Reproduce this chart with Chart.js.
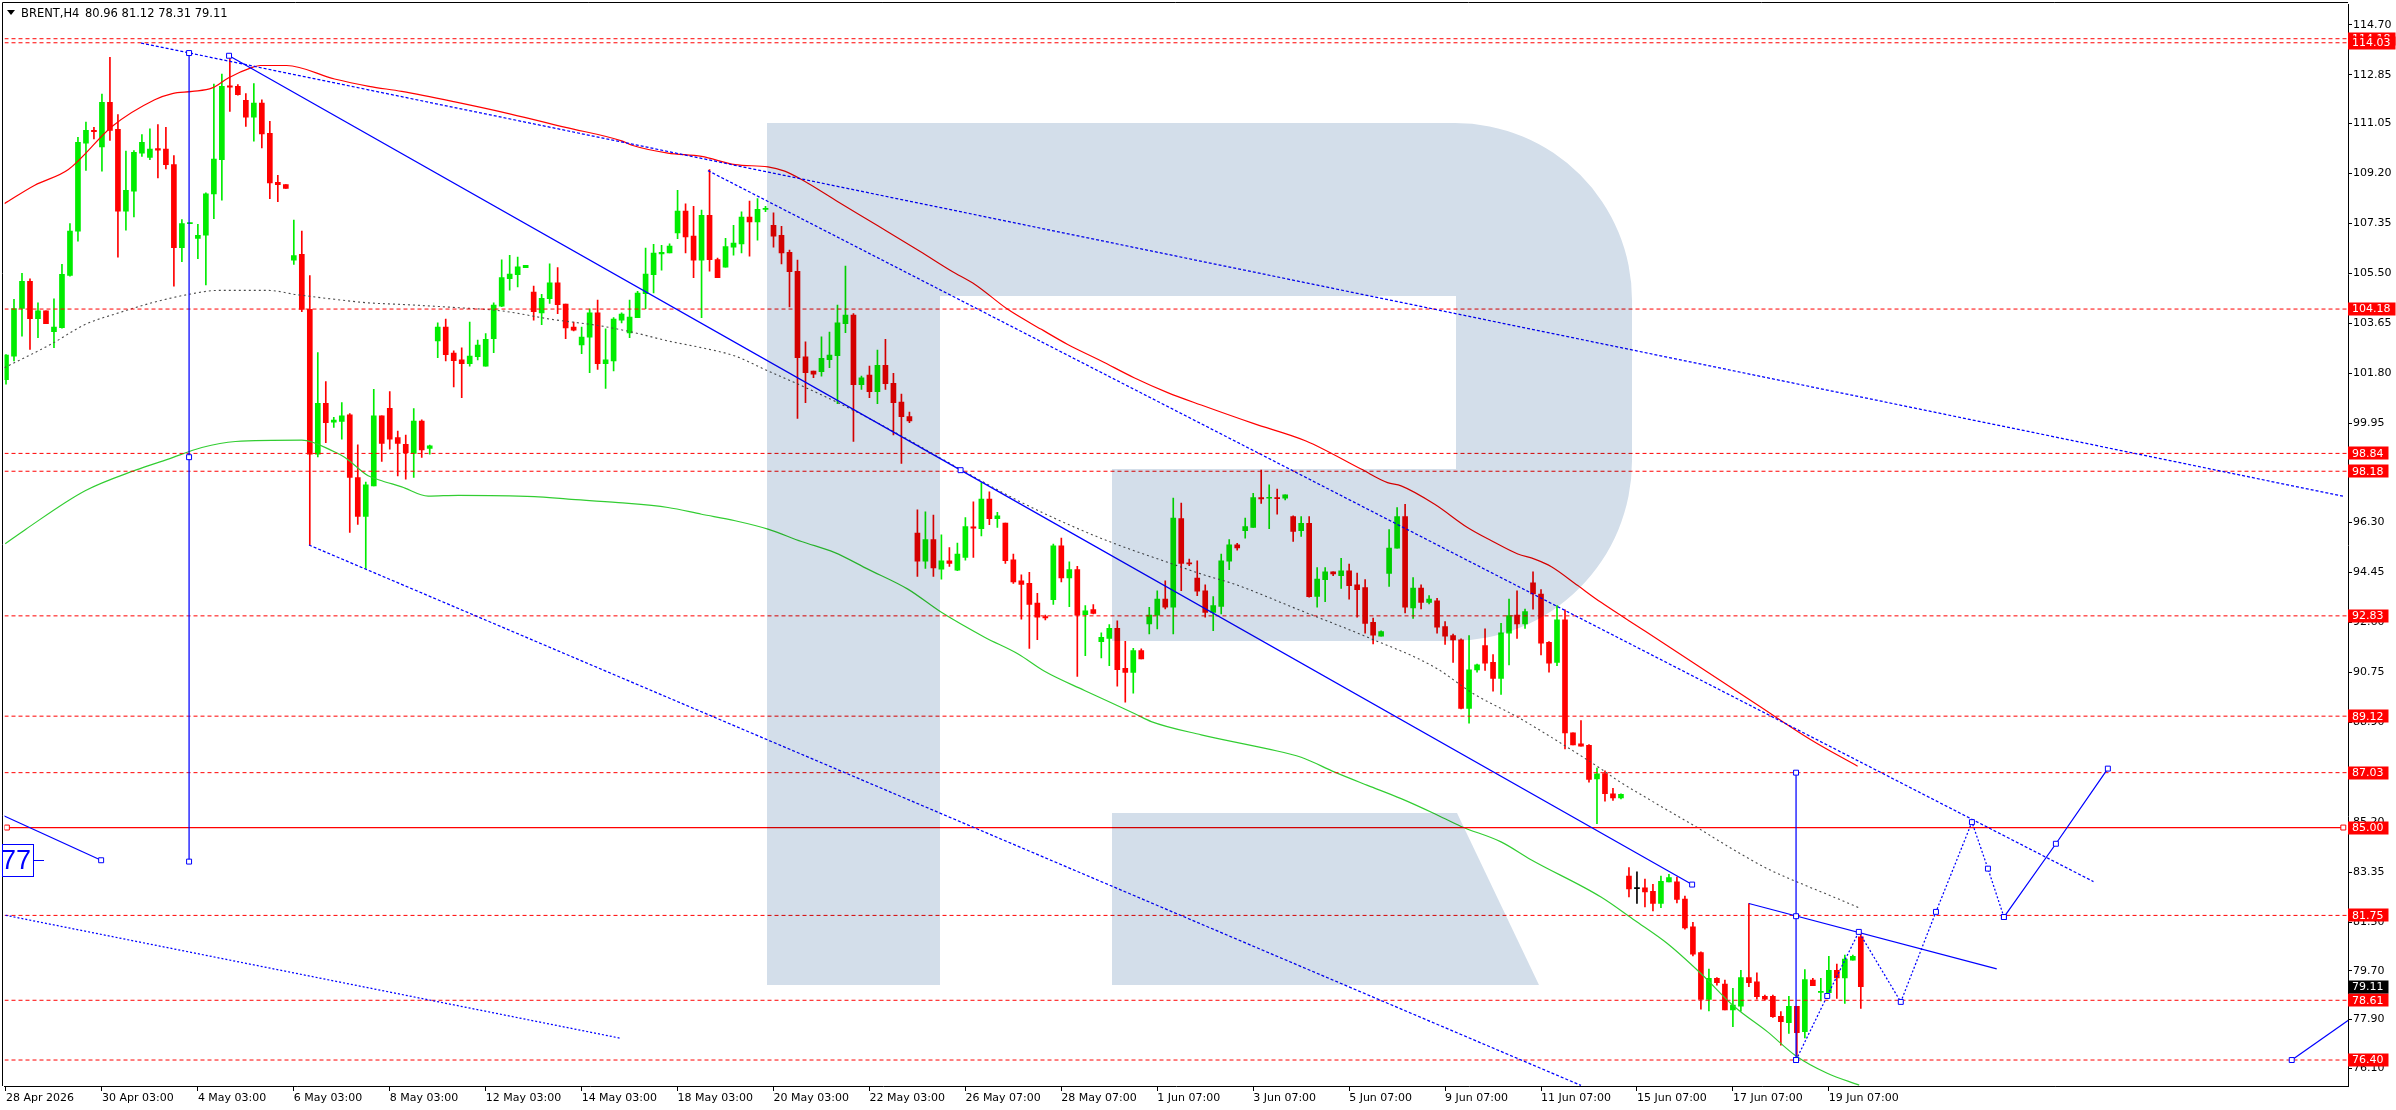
<!DOCTYPE html>
<html><head><meta charset="utf-8">
<script src="https://cdn.jsdelivr.net/npm/chart.js@4.4.1/dist/chart.umd.min.js"></script>
<style>html,body{margin:0;padding:0;background:#fff;overflow:hidden}#c{display:block}</style>
</head><body>
<canvas id="c" width="2396" height="1110"></canvas>
<script>
// ---------- DATA ----------
const symbolName = "BRENT,H4";
const timeLabels = ["28 Apr 2026","30 Apr 03:00","4 May 03:00","6 May 03:00","8 May 03:00","12 May 03:00","14 May 03:00","18 May 03:00","20 May 03:00","22 May 03:00","26 May 07:00","28 May 07:00","1 Jun 07:00","3 Jun 07:00","5 Jun 07:00","9 Jun 07:00","11 Jun 07:00","15 Jun 07:00","17 Jun 07:00","19 Jun 07:00"];
const timeLabelBars = [0,12,24,36,48,60,72,84,96,108,120,132,144,156,168,180,192,204,216,228];
const priceTicks = [114.70,112.85,111.05,109.20,107.35,105.50,103.65,101.80,99.95,98.10,96.30,94.45,92.60,90.75,88.90,87.05,85.20,83.35,81.50,79.70,77.90,76.10];

const openP = [
101.57,102.44,104.20,105.21,103.82,104.11,103.34,103.49,105.42,107.06,
110.32,110.79,110.18,111.83,110.83,107.80,108.54,109.95,109.79,110.12,
110.10,109.52,106.45,107.34,106.79,106.91,108.44,109.71,112.44,112.42,
111.90,111.28,111.80,110.68,108.87,108.78,105.99,106.20,104.17,98.81,
100.69,100.00,100.02,100.27,97.95,96.51,97.64,100.23,100.51,99.43,
99.18,98.84,100.04,99.02,103.00,103.51,102.55,102.30,102.16,102.42,
102.07,103.08,104.29,105.30,105.45,105.71,104.81,104.04,104.56,105.15,
104.36,103.51,102.85,103.14,104.04,102.16,102.26,103.77,103.30,103.86,
104.75,105.45,106.22,106.26,107.00,107.80,106.88,105.99,107.65,106.01,
105.73,106.47,106.59,107.58,107.40,107.87,107.28,106.91,106.28,105.58,
102.41,101.89,101.86,102.31,102.46,103.64,103.96,101.38,101.74,101.12,
102.10,101.43,100.74,100.20,95.89,94.85,95.65,94.56,94.87,94.52,
94.99,96.12,96.06,97.15,96.43,96.26,94.90,94.13,94.03,93.30,
92.80,93.43,95.42,94.23,94.54,92.87,93.06,91.88,92.00,92.37,
90.89,90.74,91.55,92.53,92.86,93.45,93.15,96.43,94.79,94.23,
93.76,92.96,93.18,94.85,95.46,95.98,96.10,97.21,97.18,97.20,
97.18,96.50,95.98,96.25,93.55,94.17,94.46,94.32,94.50,93.98,
93.88,92.59,92.08,94.40,95.33,96.50,93.12,93.86,93.33,93.39,
92.43,92.10,91.94,89.41,90.83,91.73,91.11,90.52,92.19,92.86,
92.53,94.05,93.64,91.85,91.11,92.68,88.50,88.10,88.04,86.80,
87.00,86.25,86.10,83.20,82.74,82.77,82.64,82.19,82.99,82.99,
82.35,81.33,80.37,78.64,79.42,79.21,78.25,78.39,79.45,79.29,
78.76,78.76,78.02,77.78,78.39,77.45,79.36,78.90,78.89,79.72,
79.44,80.09,80.96];
const highP = [
102.50,104.54,105.50,105.30,104.41,104.11,104.56,105.83,107.34,110.53,
111.10,110.90,112.13,113.49,111.37,110.02,110.04,110.63,110.85,111.00,
110.90,109.86,107.49,107.36,107.31,108.48,112.50,112.87,113.53,112.48,
112.15,112.52,111.92,111.12,109.13,108.78,107.47,107.06,105.42,102.57,
101.50,100.17,100.72,100.31,99.16,97.78,101.21,100.23,101.13,99.67,
99.52,100.50,100.08,99.15,103.67,103.81,102.63,102.75,103.70,103.03,
103.27,104.41,106.00,106.17,106.10,105.80,105.03,104.72,105.85,105.71,
104.36,103.70,103.51,104.19,104.51,103.45,103.86,104.04,104.51,104.84,
106.44,106.57,106.54,106.59,108.57,108.07,107.98,107.84,109.34,106.07,
106.80,107.28,107.78,108.17,108.27,107.98,107.74,107.24,106.36,105.99,
102.97,101.89,103.15,103.33,104.33,105.77,104.01,101.70,102.07,102.66,
103.06,101.80,101.03,100.37,96.75,96.68,96.56,95.83,95.36,95.52,
96.47,97.05,97.76,97.42,96.66,96.26,95.12,94.35,94.44,93.66,
92.86,95.49,95.71,94.83,94.66,93.21,93.25,92.20,92.51,92.65,
91.89,91.63,91.61,93.15,93.76,94.13,97.19,97.00,94.93,94.87,
93.98,93.54,95.12,95.65,95.51,96.45,97.36,98.22,97.68,97.52,
97.31,96.53,96.50,96.50,94.62,94.62,94.46,94.96,94.75,94.41,
94.17,92.75,92.28,96.02,96.84,96.96,94.25,93.98,93.58,93.48,
92.62,92.16,91.98,92.10,91.05,92.35,91.40,92.55,93.45,93.76,
93.08,94.46,93.80,91.88,93.21,93.05,88.50,88.96,88.07,87.20,
87.10,86.45,86.25,83.52,83.36,83.09,82.90,83.20,83.27,83.17,
82.46,81.49,80.40,79.76,79.45,79.36,79.05,79.72,82.19,79.63,
78.80,78.80,78.19,78.76,78.39,79.75,79.42,79.42,80.24,79.95,
80.28,80.28,81.12];
const lowP = [
101.40,102.26,103.18,102.69,103.12,103.64,102.75,103.47,105.40,106.69,
109.31,110.47,109.28,110.42,106.10,107.10,107.59,109.83,109.71,109.03,
109.36,105.03,105.93,107.34,106.04,105.07,107.52,108.21,111.49,112.09,
110.94,110.39,110.14,108.26,108.15,108.64,105.83,104.08,95.45,98.71,
99.24,99.80,99.37,95.92,96.21,94.59,97.64,98.54,99.00,98.01,
97.89,97.95,98.69,98.81,102.38,102.26,101.30,100.90,102.07,102.30,
102.07,102.57,104.27,104.88,105.00,105.71,103.77,103.60,104.39,104.01,
103.08,103.37,102.53,101.83,101.95,101.24,101.89,103.67,103.12,103.86,
104.19,104.78,105.62,106.26,106.78,106.26,105.34,103.86,105.58,105.34,
105.73,106.17,106.26,106.14,106.73,107.78,106.47,105.85,104.26,100.13,
100.72,101.64,101.70,102.01,100.68,103.31,99.28,101.21,100.90,100.68,
101.21,99.52,98.47,99.98,94.29,94.59,94.29,94.19,94.66,94.50,
94.89,94.99,95.79,96.20,96.10,94.77,94.03,92.71,91.63,91.95,
92.68,93.25,94.09,93.17,90.59,91.36,92.90,91.27,90.99,90.23,
89.64,89.97,91.24,92.16,92.35,93.09,92.16,93.76,94.69,93.58,
92.78,92.28,92.90,94.54,95.26,95.70,96.10,96.99,96.06,96.59,
97.12,95.58,95.77,93.52,93.15,93.36,94.32,93.85,93.45,92.78,
92.19,91.79,92.08,93.92,95.33,92.94,92.74,93.09,93.27,92.19,
91.77,91.11,89.39,88.86,90.75,90.81,90.04,89.92,91.02,92.00,
92.37,93.08,91.39,90.75,90.99,87.91,88.06,88.01,86.68,85.14,
85.98,86.00,86.06,82.43,82.19,82.06,81.92,82.04,82.99,82.21,
81.24,80.25,78.28,78.22,79.17,78.25,77.63,78.21,79.11,78.65,
78.62,77.98,76.95,77.38,76.45,77.22,79.15,78.59,78.86,78.68,
78.49,80.09,78.31];
const closeP = [
102.48,104.20,105.21,103.82,104.11,103.64,103.51,105.46,107.06,110.35,
110.79,110.74,111.83,110.79,107.80,108.57,109.98,110.35,110.10,110.06,
109.52,106.45,107.34,107.36,106.91,108.44,109.73,112.42,112.39,112.11,
111.28,111.80,110.66,108.85,108.78,108.64,106.16,104.17,98.81,100.69,
99.98,100.07,100.23,97.95,96.51,97.68,100.23,99.21,99.37,99.21,
98.87,100.04,98.97,99.12,103.51,102.49,102.27,102.16,102.44,102.85,
103.06,104.33,105.34,105.47,105.74,105.80,104.08,104.58,105.15,104.34,
103.48,103.40,103.14,104.04,102.16,102.30,103.81,103.99,103.88,104.77,
105.47,106.25,106.28,106.51,107.80,106.85,105.99,107.65,106.01,105.34,
106.49,106.62,107.58,107.40,107.87,107.89,106.88,106.26,105.56,102.38,
101.83,101.77,102.36,102.48,103.67,103.96,101.38,101.64,101.12,102.10,
101.42,100.72,100.20,100.04,94.85,95.65,94.60,94.87,94.77,95.12,
96.13,96.07,97.15,96.43,96.53,94.87,94.09,93.99,93.25,92.78,
92.75,95.42,94.23,94.54,92.86,93.02,92.92,92.04,92.37,90.84,
90.74,91.55,91.24,92.86,93.45,93.15,96.45,94.77,94.75,93.74,
92.96,93.21,94.87,95.46,95.34,96.13,97.21,97.16,97.20,97.17,
97.31,95.95,96.25,93.54,94.19,94.46,94.38,94.50,93.95,93.80,
92.55,92.12,92.25,95.34,96.50,93.15,93.86,93.33,93.45,92.41,
92.08,91.94,89.41,90.83,91.02,91.08,90.52,92.20,92.84,92.53,
92.99,93.64,91.82,91.08,92.68,88.50,88.06,88.01,86.78,86.99,
86.25,86.10,86.23,82.73,82.74,82.62,82.19,83.01,83.15,82.34,
81.29,80.32,78.64,79.42,79.26,78.25,78.43,79.45,79.26,78.74,
78.65,78.00,77.82,78.39,77.41,79.38,79.15,78.93,79.72,79.44,
80.13,80.24,79.11];

// moving averages, sampled [bar, price]
const maRed = [[-0.2,108.08],[3.6,108.76],[7.8,109.34],[13.3,110.94],[18.6,111.92],[20.8,112.15],[23.3,112.23],[25.8,112.36],[27.8,112.73],[30.8,113.12],[31.8,113.19],[35.1,113.19],[41.1,112.69],[45.4,112.42],[49.5,112.23],[56,111.85],[63,111.40],[70,110.90],[77,110.40],[78.3,110.24],[82.8,109.95],[87,109.83],[91.2,109.52],[95.3,109.44],[97.4,109.28],[99.5,108.97],[104,108.16],[109,107.27],[114.3,106.32],[118.3,105.58],[121.2,105.09],[125.3,104.17],[129.5,103.43],[132.8,102.87],[137,102.26],[141.1,101.64],[145.3,101.09],[149.5,100.63],[156,99.95],[162.6,99.30],[169.5,98.26],[172.8,97.76],[174.5,97.64],[178.7,96.96],[182.8,96.10],[185.8,95.61],[189.1,95.12],[191.2,94.93],[193.3,94.65],[196.6,93.95],[199.5,93.33],[205,92.27],[212,90.91],[219,89.55],[225.9,88.22],[231.6,87.27]];
const maGray = [[-0.2,102.01],[5.75,102.90],[9.9,103.61],[14.1,104.04],[18.25,104.41],[22.8,104.72],[26.6,104.87],[32.8,104.87],[36.2,104.72],[41.1,104.54],[45.3,104.41],[49.5,104.35],[56.6,104.23],[62,104.11],[68.25,103.80],[74.5,103.55],[78.7,103.30],[82.8,103.00],[87,102.75],[91.2,102.44],[95.3,101.89],[99.1,101.40],[105.75,100.47],[112,99.49],[118.25,98.44],[126.6,97.09],[132.8,96.22],[138.25,95.55],[145.3,94.81],[149.9,94.34],[153.6,94.01],[162,93.02],[170.3,92.04],[178.7,90.93],[183.6,89.94],[189.1,89.08],[195.3,87.97],[199.5,87.17],[201.6,86.74],[205.75,86.00],[210.75,85.14],[216.2,84.16],[220.3,83.48],[224.5,82.93],[228.6,82.43],[231.8,82.03]];
const maGreen = [[-0.1,95.50],[2.4,96.02],[9.9,97.46],[16.2,98.22],[20.3,98.63],[24.5,99.06],[28.7,99.28],[37,99.33],[41.2,98.88],[42.4,98.69],[45.3,98.01],[47,97.83],[49.5,97.60],[52.8,97.26],[56.6,97.29],[66.1,97.24],[70.3,97.15],[76.6,97.02],[82.8,96.84],[87,96.59],[91.2,96.35],[95.3,96.04],[99.5,95.58],[103.6,95.18],[107.8,94.56],[112.8,93.82],[117,92.96],[122.4,92.04],[126.6,91.42],[129.9,90.78],[134.9,90.07],[141.2,89.21],[143.25,88.92],[149.5,88.43],[157.8,87.91],[162,87.60],[166.2,87.05],[170.3,86.56],[174.5,86.07],[178.7,85.51],[182,85.04],[187,84.47],[190.75,83.81],[199.5,82.43],[203.7,81.57],[207.8,80.71],[212,79.60],[216.2,78.37],[220.3,77.45],[223.9,76.55],[227.8,75.91],[231.8,75.47]];

// drawn objects [bar, price]
const trendUpperDotted = [[16.9,114.02],[292.4,97.25]];
const channelSolid = [[27.9,113.55],[119.4,98.22],[210.9,82.89]];
const channelLowerDotted = [[37.9,95.45],[197,75.46]];
const channelMidDotted = [[87.8,109.30],[261.1,83.00]];
const leftLowerDotted = [[-2,81.87],[76.8,77.21]];
const leftShortSolid = [[-2,85.67],[11.9,83.79]];
const vertLeft = [[22.9,113.65],[22.9,98.70],[22.9,83.74]];
const vertRight = [[223.9,87.03],[223.9,81.72],[223.9,76.40]];
const shortTrend = [[218,82.19],[249,79.77]];
const forecastDotted = [[223.9,76.40],[227.8,78.77],[231.75,81.14],[237,78.55],[241.4,81.88],[245.9,85.20],[247.9,83.48],[249.9,81.69]];
const forecastSolid = [[249.9,81.69],[256.4,84.40],[262.9,87.18]];
const bottomRight = [[285.9,76.40],[293.5,77.98]];
const line85 = [[0.11,85.00],[292.35,85.00]];
const dashedLevels = [114.18,114.03,104.18,98.84,98.18,92.83,89.12,87.03,81.75,78.61,76.40];
const solidLevel = 85.00;
const cutLabelText = "77";
const cutLabelPrice = 83.77;

// ---------- CHART ----------
const X_MIN = -0.1875, X_MAX = 292.9375;
const Y_MIN = 75.439, Y_MAX = 115.446;
const BULL = '#00ec00', BEAR = '#ff0000', DOJI = '#000000', BLUE = '#0000ff';
const FONT = '"DejaVu Sans", Verdana, sans-serif';
const candleColors = openP.map((o,i)=> closeP[i]>o ? BULL : (closeP[i]<o ? BEAR : DOJI));
const wickData = openP.map((o,i)=>({x:i, y:[lowP[i], highP[i]]}));
const bodyData = openP.map((o,i)=>({x:i, y:[o, closeP[i]]}));
const pts = a => a.map(p=>({x:p[0], y:p[1]}));

function lineDs(points, color, dash, marks, order, smooth, width){
  return {
    type:'line', data:pts(points), borderColor:color, borderWidth:width||1, borderDash:dash||[],
    pointStyle:'rect', pointRadius:points.map((p,i)=> (marks && marks.indexOf(i)>=0) ? 3.5 : 0),
    pointBackgroundColor:'#ffffff', pointBorderColor:color, pointBorderWidth:1, pointHoverRadius:0,
    fill:false, tension:0, cubicInterpolationMode: smooth ? 'monotone' : 'default', order:order, spanGaps:true
  };
}

const datasets = [];
datasets.push({type:'bar', data:wickData, backgroundColor:candleColors, barThickness:1, grouped:false, borderWidth:0, order:20});
datasets.push({type:'bar', data:bodyData, backgroundColor:candleColors, barThickness:5, minBarLength:1, grouped:false, borderWidth:0, borderSkipped:false, order:19});
datasets.push(lineDs(maGreen, '#32cd32', [], null, 10, true, 1.2));
datasets.push(lineDs(maGray, '#4a4a4a', [2,3], null, 10, true, 1.1));
datasets.push(lineDs(maRed, '#ff0000', [], null, 10, true, 1.2));
dashedLevels.forEach(v => datasets.push(lineDs([[X_MIN,v],[X_MAX,v]], '#ff0000', [4,3], null, 8)));
datasets.push(lineDs(line85, '#ff0000', [], [0,1], 7, false, 1.2));
datasets.push(lineDs(trendUpperDotted, BLUE, [3,2], null, 5, false, 1.25));
datasets.push(lineDs(channelMidDotted, BLUE, [3,2], null, 5, false, 1.25));
datasets.push(lineDs(channelLowerDotted, BLUE, [3,2], null, 5, false, 1.25));
datasets.push(lineDs(leftLowerDotted, BLUE, [2,2], null, 5, false, 1.25));
datasets.push(lineDs(leftShortSolid, BLUE, [], [1], 5, false, 1.25));
datasets.push(lineDs(channelSolid, BLUE, [], [0,1,2], 4, false, 1.25));
datasets.push(lineDs(vertLeft, BLUE, [], [0,1,2], 4, false, 1.25));
datasets.push(lineDs(shortTrend, BLUE, [], null, 4, false, 1.25));
datasets.push(lineDs(forecastDotted, BLUE, [2,2], [0,1,2,3,4,5,6,7], 3, false, 1.25));
datasets.push(lineDs(forecastSolid, BLUE, [], [0,1,2], 3, false, 1.25));
datasets.push(lineDs(vertRight, BLUE, [], [0,1,2], 2, false, 1.25));
datasets.push(lineDs(bottomRight, BLUE, [], [0], 3, false, 1.25));

const decor = {
  id:'decor',
  afterDatasetsDraw(chart){
    const ctx = chart.ctx, a = chart.chartArea;
    ctx.save();
    ctx.beginPath(); ctx.rect(a.left, a.top, a.right-a.left, a.bottom-a.top); ctx.clip();
    ctx.globalCompositeOperation = 'multiply';
    ctx.fillStyle = '#d3deea';
    ctx.beginPath();
    ctx.moveTo(767,123); ctx.lineTo(1455,123);
    ctx.arcTo(1632,123,1632,303,177);
    ctx.lineTo(1632,461);
    ctx.arcTo(1632,641,1455,641,180);
    ctx.lineTo(1112,641); ctx.lineTo(1112,469); ctx.lineTo(940,469);
    ctx.lineTo(940,985); ctx.lineTo(767,985); ctx.closePath();
    ctx.moveTo(940,296); ctx.lineTo(1456,296); ctx.lineTo(1456,469); ctx.lineTo(940,469); ctx.closePath();
    ctx.fill('evenodd');
    ctx.beginPath();
    ctx.moveTo(1112,813); ctx.lineTo(1457,813); ctx.lineTo(1539,985); ctx.lineTo(1112,985); ctx.closePath();
    ctx.fill();
    ctx.restore();
  },
  afterDraw(chart){
    const ctx = chart.ctx, a = chart.chartArea, ys = chart.scales.y;
    ctx.save();
    ctx.strokeStyle = '#000'; ctx.lineWidth = 1;
    ctx.beginPath(); ctx.moveTo(2.5, a.bottom); ctx.lineTo(2.5, 2.5); ctx.lineTo(a.right, 2.5); ctx.stroke();
    ctx.fillStyle = '#000';
    ctx.beginPath(); ctx.moveTo(7,10); ctx.lineTo(15,10); ctx.lineTo(11,15); ctx.closePath(); ctx.fill();
    ctx.font = '11.5px ' + FONT; ctx.textBaseline = 'alphabetic'; ctx.textAlign = 'left';
    const L = openP.length - 1;
    ctx.fillText(symbolName, 21, 17);
    ctx.fillText([openP[L],highP[L],lowP[L],closeP[L]].map(v=>v.toFixed(2)).join(' '), 85, 17);
    const cy = ys.getPixelForValue(cutLabelPrice);
    ctx.strokeStyle = BLUE; ctx.fillStyle = BLUE;
    ctx.strokeRect(2.5, Math.round(cy)-16.5, 31, 32);
    ctx.beginPath(); ctx.moveTo(33.5, Math.round(cy)-0.5); ctx.lineTo(44, Math.round(cy)-0.5); ctx.stroke();
    ctx.font = '27px "Liberation Sans", Arial, sans-serif'; ctx.textAlign = 'right'; ctx.textBaseline = 'middle';
    ctx.fillText(cutLabelText, 31, cy+1);
    ctx.font = '11px ' + FONT; ctx.textAlign = 'left'; ctx.textBaseline = 'middle';
    const box = (v, bg) => {
      const y = ys.getPixelForValue(v), t = v.toFixed(2), w = ctx.measureText(t).width;
      ctx.fillStyle = bg; ctx.fillRect(a.right, Math.round(y)-6.5, w+9, 13);
      ctx.fillStyle = '#ffffff'; ctx.fillText(t, a.right+4, y+0.5);
    };
    dashedLevels.forEach(v => box(v, '#ff0000'));
    box(solidLevel, '#ff0000');
    box(closeP[L], '#000000');
    ctx.restore();
  }
};

new Chart(document.getElementById('c'), {
  type:'bar',
  data:{datasets},
  options:{
    responsive:false, animation:false, devicePixelRatio:1, events:[],
    layout:{padding:{left:3, top:3, right:0, bottom:0}},
    plugins:{legend:{display:false}, tooltip:{enabled:false}},
    scales:{
      x:{type:'linear', position:'bottom', min:X_MIN, max:X_MAX, offset:false,
        afterBuildTicks: s => { s.ticks = timeLabelBars.map(v=>({value:v})); },
        afterFit: s => { s.height = 24; s.paddingLeft = 0; s.paddingRight = 0; },
        ticks:{autoSkip:false, maxRotation:0, minRotation:0, align:'start', padding:1, color:'#000',
          font:{family:FONT, size:11},
          callback: v => { const k = timeLabelBars.indexOf(v); return k>=0 ? timeLabels[k] : ''; }},
        grid:{display:true, drawOnChartArea:false, drawTicks:true, tickLength:5, color:'#000', offset:false},
        border:{display:true, color:'#000', width:1}},
      y:{type:'linear', position:'right', min:Y_MIN, max:Y_MAX,
        afterBuildTicks: s => { s.ticks = priceTicks.map(v=>({value:v})); },
        afterFit: s => { s.width = 48; s.paddingTop = 0; s.paddingBottom = 0; },
        ticks:{padding:1, color:'#000', font:{family:FONT, size:11}, callback: v => Number(v).toFixed(2)},
        grid:{display:true, drawOnChartArea:false, drawTicks:true, tickLength:4, color:'#000'},
        border:{display:true, color:'#000', width:1}}
    }
  },
  plugins:[decor]
});
</script>
</body></html>
